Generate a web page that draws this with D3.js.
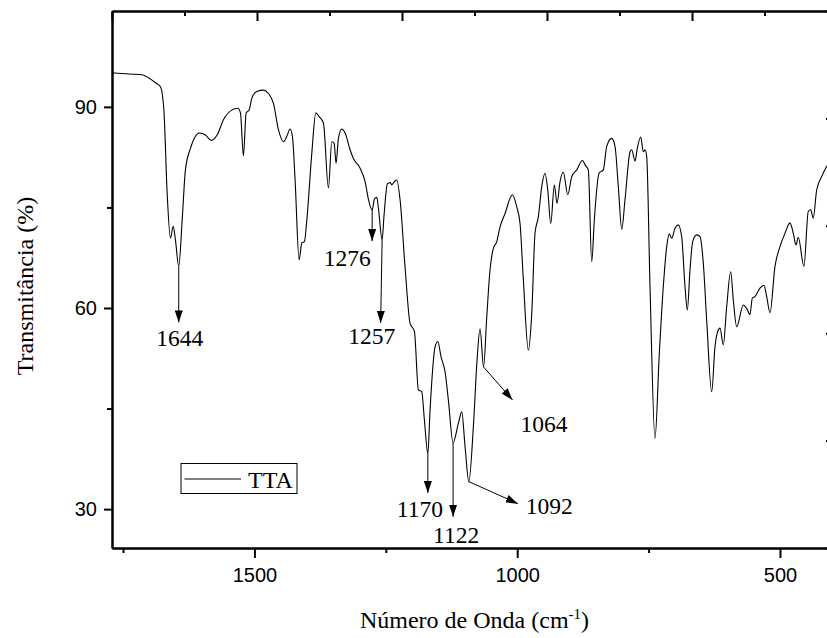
<!DOCTYPE html>
<html>
<head>
<meta charset="utf-8">
<script src="https://cdn.jsdelivr.net/npm/d3@7"></script>
<style>
  html, body { margin: 0; padding: 0; background: #fff; overflow: hidden; }
  svg { display: block; }
</style>
</head>
<body>
<svg id="chart" width="827" height="638"></svg>
<script>
// FTIR spectrum of TTA: wavenumber (cm-1) and transmittance (%)
const wavenumber = [
  1770.7, 1738.9, 1713.6, 1700.9, 1688.3, 1678.8, 1672.3, 1666.1, 1659.8, 1654.6,
  1650.3, 1644.0, 1637.5, 1631.3, 1621.7, 1604.6, 1593.2, 1581.8, 1571.0, 1558.2,
  1542.4, 1531.6, 1526.6, 1520.9, 1515.8, 1510.1, 1504.9, 1495.4, 1482.9, 1473.4,
  1463.9, 1454.3, 1444.8, 1438.4, 1432.1, 1427.7, 1422.6, 1415.0, 1409.8, 1404.9,
  1400.3, 1390.8, 1383.2, 1376.9, 1368.7, 1359.2, 1352.8, 1348.4, 1344.6, 1340.2,
  1333.7, 1327.5, 1318.0, 1311.7, 1298.9, 1289.4, 1282.8, 1276.0, 1271.4, 1267.2,
  1263.7, 1257.0, 1253.3, 1247.0, 1241.9, 1238.6, 1233.7, 1229.1, 1222.8, 1213.3,
  1203.8, 1195.6, 1188.0, 1181.6, 1176.6, 1170.0, 1165.8, 1156.3, 1151.1, 1144.9,
  1137.3, 1131.0, 1122.0, 1112.0, 1105.5, 1099.2, 1092.0, 1083.4, 1076.4, 1070.7,
  1064.0, 1057.9, 1051.7, 1045.4, 1038.9, 1032.6, 1023.1, 1009.2, 1000.9, 994.6,
  988.3, 978.8, 972.3, 966.1, 959.8, 953.3, 947.0, 941.9, 936.2, 929.3,
  924.2, 918.5, 912.2, 903.8, 896.2, 886.7, 876.1, 869.6, 864.7, 858.2,
  853.3, 844.3, 836.1, 829.7, 820.2, 813.9, 807.6, 801.1, 794.9, 785.3,
  782.1, 775.8, 771.5, 765.0, 760.0, 756.8, 753.6, 747.3, 737.8, 729.6,
  722.0, 715.5, 710.6, 706.0, 699.7, 693.5, 687.0, 680.7, 676.3, 671.2,
  666.1, 658.5, 652.2, 645.9, 639.5, 629.9, 623.7, 619.3, 614.1, 607.9,
  601.4, 593.8, 588.8, 582.4, 569.8, 563.4, 557.1, 552.7, 547.6, 538.1,
  530.5, 525.3, 519.0, 509.5, 500.0, 490.5, 481.0, 474.7, 469.6, 465.2,
  454.4, 446.2, 441.6, 436.7, 430.2, 420.7, 411.2, 401.1, 391.6
];
const transmittance = [
  95.1, 94.9, 94.8, 94.3, 93.6, 93.0, 89.55, 77.2, 70.4, 72.2,
  70.15, 66.2, 73.1, 80.6, 83.8, 86.1, 85.8, 85.0, 85.8, 88.2,
  89.55, 89.8, 89.1, 82.7, 89.1, 89.55, 91.3, 92.3, 92.5, 92.0,
  90.55, 86.6, 84.8, 85.6, 86.7, 85.6, 79.1, 67.2, 69.7, 69.9,
  73.1, 83.1, 89.1, 88.55, 87.6, 77.9, 84.8, 84.6, 81.6, 85.3,
  86.7, 86.1, 83.6, 82.3, 80.85, 78.85, 76.1, 74.6, 76.3, 76.5,
  74.6, 70.15, 73.9, 78.5, 78.7, 78.4, 78.85, 79.1, 76.1, 66.0,
  57.7, 56.5, 47.8, 47.5, 43.3, 38.3, 44.8, 54.2, 55.0, 52.7,
  50.5, 46.3, 39.9, 42.8, 44.5, 39.3, 34.1, 42.3, 52.2, 56.9,
  51.2, 58.7, 65.7, 68.9, 69.9, 72.1, 74.1, 76.9, 75.1, 72.6,
  64.2, 53.7, 59.2, 71.15, 73.6, 78.1, 80.1, 77.6, 72.6, 78.35,
  75.6, 78.85, 80.25, 76.9, 79.6, 80.6, 82.0, 81.2, 80.6, 66.9,
  73.1, 80.1, 80.6, 84.1, 85.3, 84.1, 78.1, 71.75, 76.1, 83.3,
  83.6, 81.9, 83.8, 85.5, 83.3, 83.6, 82.6, 63.2, 40.55, 53.2,
  63.2, 69.15, 71.05, 70.4, 71.9, 72.4, 70.6, 63.2, 59.7, 65.7,
  69.9, 70.9, 70.65, 66.7, 58.2, 47.5, 54.2, 56.3, 57.0, 54.5,
  60.2, 65.4, 61.2, 57.2, 60.45, 59.95, 59.0, 61.45, 61.7, 62.95,
  63.4, 61.7, 59.3, 66.2, 69.15, 71.15, 72.7, 71.15, 69.4, 70.55,
  66.2, 74.4, 74.65, 73.4, 77.6, 79.6, 81.1, 82.1, 83.3
];

// Axis ticks
const xTickValues = [1500, 1000, 500];
const xTickLabels = ["1500", "1000", "500"];
const xMinorTicks = [1750, 1250, 750];
const yTickValues = [30, 60, 90];
const yTickLabels = ["30", "60", "90"];
const yMinorTicks = [45, 75];
const topAxisTicks = [0, 1, 2, 3, 4, 5];
const topAxisMinorTicks = [0.5, 1.5, 2.5, 3.5, 4.5];
const rightAxisTicks = [0, 1, 2, 3, 4, 5];
const rightAxisMinorTicks = [0.5, 1.5, 2.5, 3.5, 4.5];

// Annotated absorption bands
const peakWavenumbers = [1644, 1276, 1257, 1170, 1122, 1092, 1064];
const peakLabels = ["1644", "1276", "1257", "1170", "1122", "1092", "1064"];

const seriesName = "TTA";
const xTitle = "Número de Onda (cm";
const xTitleSup = "-1";
const yTitle = "Transmitância (%)";

// ---- layout ----
const plot = { left: 112, top: 11, right: 837, bottom: 548 };
const serif = "'Liberation Serif', 'Times New Roman', Times, serif";
const sans = "'Liberation Sans', Arial, Helvetica, sans-serif";

const svg = d3.select("#chart");

const x = d3.scaleLinear().domain([1771, 391.5]).range([plot.left, plot.right]);
const y = d3.scaleLinear().domain([24.2, 104.3]).range([plot.bottom, plot.top]);
const xTop = d3.scaleLinear().domain([0, 5]).range([plot.left, plot.right]);
const yRight = d3.scaleLinear().domain([0, 5]).range([plot.bottom, plot.top]);

function styleAxis(g, fontFamily, fontSize) {
  g.select(".domain").attr("stroke", "#000").attr("stroke-width", 2);
  g.selectAll(".tick line").attr("stroke", "#000").attr("stroke-width", 2);
  g.selectAll(".tick text")
    .attr("fill", "#000")
    .style("font-family", fontFamily)
    .style("font-size", fontSize + "px");
}

// Bottom axis
svg.append("g")
  .attr("transform", `translate(0,${plot.bottom})`)
  .call(d3.axisBottom(x).tickValues(xMinorTicks).tickSize(5).tickSizeOuter(0).tickFormat(""))
  .call(g => styleAxis(g, sans, 20));
svg.append("g")
  .attr("transform", `translate(0,${plot.bottom})`)
  .call(d3.axisBottom(x).tickValues(xTickValues).tickSize(10).tickSizeOuter(0).tickPadding(10)
    .tickFormat((d, i) => xTickLabels[i]))
  .call(g => styleAxis(g, sans, 20));

// Left axis
svg.append("g")
  .attr("transform", `translate(${plot.left},0)`)
  .call(d3.axisLeft(y).tickValues(yMinorTicks).tickSize(5).tickSizeOuter(0).tickFormat(""))
  .call(g => styleAxis(g, sans, 20));
svg.append("g")
  .attr("transform", `translate(${plot.left},0)`)
  .call(d3.axisLeft(y).tickValues(yTickValues).tickSize(8).tickSizeOuter(0).tickPadding(7)
    .tickFormat((d, i) => yTickLabels[i]))
  .call(g => styleAxis(g, sans, 20));

// Top axis (ticks pointing inward, no labels)
svg.append("g")
  .attr("transform", `translate(0,${plot.top})`)
  .call(d3.axisTop(xTop).tickValues(topAxisMinorTicks).tickSize(-5).tickSizeOuter(0).tickFormat(""))
  .call(g => styleAxis(g, sans, 20));
svg.append("g")
  .attr("transform", `translate(0,${plot.top})`)
  .call(d3.axisTop(xTop).tickValues(topAxisTicks).tickSize(-10).tickSizeOuter(0).tickFormat(""))
  .call(g => styleAxis(g, sans, 20));

// Right axis (ticks pointing inward, no labels)
svg.append("g")
  .attr("transform", `translate(${plot.right},0)`)
  .call(d3.axisRight(yRight).tickValues(rightAxisMinorTicks).tickSize(-5).tickSizeOuter(0).tickFormat(""))
  .call(g => styleAxis(g, sans, 20));
svg.append("g")
  .attr("transform", `translate(${plot.right},0)`)
  .call(d3.axisRight(yRight).tickValues(rightAxisTicks).tickSize(-11).tickSizeOuter(0).tickFormat(""))
  .call(g => styleAxis(g, sans, 20));

// Spectrum line
const points = wavenumber.map((w, i) => [w, transmittance[i]]);
const line = d3.line()
  .x(d => x(d[0]))
  .y(d => y(d[1]))
  .curve(d3.curveMonotoneX);

svg.append("path")
  .datum(points)
  .attr("fill", "none")
  .attr("stroke", "#000")
  .attr("stroke-width", 1.1)
  .attr("stroke-linejoin", "round")
  .attr("d", line);

// Arrow marker
svg.append("defs").append("marker")
  .attr("id", "arrowhead")
  .attr("markerUnits", "userSpaceOnUse")
  .attr("viewBox", "0 -4 12 8")
  .attr("refX", 12).attr("refY", 0)
  .attr("markerWidth", 12).attr("markerHeight", 8)
  .attr("orient", "auto")
  .append("path")
  .attr("d", "M0,-4L12,0L0,4Z")
  .attr("fill", "#000");

// Arrow offsets (px from band minimum to arrow tip) and label offsets (from tip)
const annotationLayout = [
  { dx: 0,    dy: 56,   lx: 1,   ly: 24, anchor: "middle" },
  { dx: 0,    dy: 31,   lx: -25, ly: 25, anchor: "middle" },
  { dx: -1.5, dy: 83,   lx: -9,  ly: 21, anchor: "middle" },
  { dx: 0,    dy: 39.5, lx: -8,  ly: 24, anchor: "middle" },
  { dx: 0,    dy: 74,   lx: 3,   ly: 26, anchor: "middle" },
  { dx: 49,   dy: 22,   lx: 8,   ly: 10, anchor: "start" },
  { dx: 29,   dy: 33,   lx: 8,   ly: 32, anchor: "start" }
];

const ann = svg.append("g");
peakWavenumbers.forEach((w, i) => {
  let idx = d3.minIndex(wavenumber, v => Math.abs(v - w));
  const x0 = x(w), y0 = y(transmittance[idx]);
  const L = annotationLayout[i];
  const x1 = x0 + L.dx, y1 = y0 + L.dy;
  ann.append("line")
    .attr("x1", x0).attr("y1", y0)
    .attr("x2", x1).attr("y2", y1)
    .attr("stroke", "#000").attr("stroke-width", 1)
    .attr("marker-end", "url(#arrowhead)");
  ann.append("text")
    .attr("x", x1 + L.lx).attr("y", y1 + L.ly)
    .attr("text-anchor", L.anchor)
    .style("font-family", serif)
    .style("font-size", "23.5px")
    .attr("fill", "#000")
    .text(peakLabels[i]);
});

// Legend
const legend = svg.append("g").attr("transform", "translate(181,463.5)");
legend.append("rect")
  .attr("width", 116).attr("height", 30)
  .attr("fill", "#fff").attr("stroke", "#000").attr("stroke-width", 1);
legend.append("line")
  .attr("x1", 3.5).attr("x2", 60).attr("y1", 15.5).attr("y2", 15.5)
  .attr("stroke", "#000").attr("stroke-width", 1.1);
legend.append("text")
  .attr("x", 67).attr("y", 24)
  .style("font-family", serif).style("font-size", "24px")
  .attr("fill", "#000")
  .text(seriesName);

// Axis titles
const xt = svg.append("text")
  .attr("x", (plot.left + plot.right) / 2).attr("y", 628)
  .attr("text-anchor", "middle")
  .style("font-family", serif).style("font-size", "24px")
  .attr("fill", "#000");
xt.append("tspan").text(xTitle);
xt.append("tspan").attr("dy", -9).style("font-size", "15px").text(xTitleSup);
xt.append("tspan").attr("dy", 9).text(")");

svg.append("text")
  .attr("transform", "translate(33,286) rotate(-90)")
  .attr("text-anchor", "middle")
  .style("font-family", serif).style("font-size", "24px")
  .attr("fill", "#000")
  .text(yTitle);
</script>
</body>
</html>
